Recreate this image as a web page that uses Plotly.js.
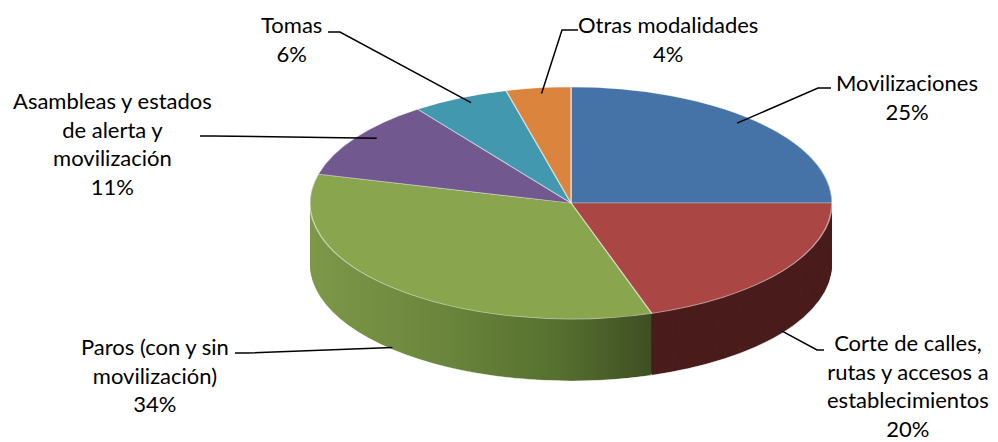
<!DOCTYPE html>
<html>
<head>
<meta charset="utf-8">
<script src="https://cdn.plot.ly/plotly-3.0.1.min.js"></script>
<style>
  html, body { margin: 0; padding: 0; background: #fff; }
  #chart { width: 998px; height: 442px; }
</style>
</head>
<body>
<div id="chart"></div>
<script>
// ---------------- DATA ----------------
const categories = [
  "Movilizaciones",
  "Corte de calles, rutas y accesos a establecimientos",
  "Paros (con y sin movilización)",
  "Asambleas y estados de alerta y movilización",
  "Tomas",
  "Otras modalidades"
];
const values = [25, 20, 34, 11, 6, 4];
const wrappedLabels = [
  "Movilizaciones",
  "Corte de calles,<br>rutas y accesos a<br>establecimientos",
  "Paros (con y sin<br>movilización)",
  "Asambleas y estados<br>de alerta y<br>movilización",
  "Tomas",
  "Otras modalidades"
];

// ---------------- STYLE / LAYOUT ----------------
const W = 998, H = 442;
const topColors  = ["#4572A7", "#AA4643", "#89A54E", "#71588F", "#4198AF", "#DB843D"];
const sideColors = ["#2c4a70", "#4a1d1c", "#5d7535", "#4a3a5e", "#2a6373", "#8f5628"];
const CX = 571, CY = 203, RX = 261, RY = 116, DEPTH = 62;   // final ellipse geometry (px)
const R0 = 170;                                              // plotly pie radius before squash
const domH = 2 * R0 / H;
const domTop = 0.995;
const preDepth = DEPTH * R0 / RY;
const STEP = 1.5;
const FONT = { family: "Lato, 'Open Sans', sans-serif", size: 22, color: "#000" };

// label placement (pixel centres) and leader-line start/elbow points
const labelPos = [[907, 97], [908, 385], [155, 375], [112, 144], [291, 39], [668, 39]];
const leaderStart = [[831, 88], [824, 350], [235, 353], [200, 136], [328, 32], [578, 30]];
const leaderElbow = [[818, 88], [817, 350], [247, 353], [213, 136], [340, 32], [562, 30]];

// ---------------- TRACES ----------------
const traces = [];
function pieTrace(shiftPx, colors, line) {
  const off = shiftPx / H;
  return {
    type: "pie",
    labels: categories,
    values: values,
    sort: false,
    direction: "clockwise",
    rotation: 0,
    textinfo: "none",
    hoverinfo: "skip",
    showlegend: false,
    marker: { colors: colors, line: line },
    domain: { x: [0, 1], y: [domTop - domH - off, domTop - off] }
  };
}
for (let s = preDepth; s > 0; s -= STEP) {
  traces.push(pieTrace(s, sideColors, { width: s === preDepth ? 1 : 0, color: "rgba(255,255,255,0.6)" }));
}
traces.push(pieTrace(0, topColors, { width: 1, color: "rgba(255,255,255,0.55)" }));

// ---------------- ANNOTATIONS / LEADERS ----------------
const total = values.reduce((a, b) => a + b, 0);
const annotations = [];
const shapes = [];
let cum = 0;
const px = x => x / W, py = y => 1 - y / H;
values.forEach((v, i) => {
  const pct = Math.round(v / total * 100);
  const mid = (cum + v / 2) / total * 2 * Math.PI;   // clockwise from top
  cum += v;
  const front = Math.cos(mid) < -0.2;
  const f = front ? 1.0 : 0.9;
  const ex = CX + RX * f * Math.sin(mid);
  const ey = CY - RY * f * Math.cos(mid) + (front ? DEPTH - 2 : -6);
  annotations.push({
    x: px(labelPos[i][0]), y: py(labelPos[i][1]), xref: "paper", yref: "paper",
    xanchor: "center", yanchor: "middle", align: "center", showarrow: false,
    text: wrappedLabels[i] + "<br>" + pct + "%",
    font: FONT
  });
  const s0 = leaderStart[i], e0 = leaderElbow[i];
  shapes.push({
    type: "path", xref: "paper", yref: "paper",
    path: `M ${px(s0[0])} ${py(s0[1])} L ${px(e0[0])} ${py(e0[1])} L ${px(ex)} ${py(ey)}`,
    line: { color: "#000", width: 1.5 }
  });
});

const layout = {
  width: W, height: H,
  margin: { l: 0, r: 0, t: 0, b: 0 },
  paper_bgcolor: "#fff",
  showlegend: false,
  annotations: annotations,
  shapes: shapes
};

Plotly.newPlot("chart", traces, layout, { staticPlot: true, displayModeBar: false }).then(() => {
  const layer = document.querySelector(".pielayer");
  const groups = layer.querySelectorAll("g.trace");
  const topG = groups[groups.length - 1];
  const bb = topG.getBBox();
  const cx0 = bb.x + bb.width / 2, cy0 = bb.y + bb.height / 2, r0 = bb.width / 2;
  const sx = RX / r0, sy = RY / r0;
  layer.setAttribute("transform",
    `translate(${CX},${CY}) scale(${sx},${sy}) translate(${-cx0},${-cy0})`);

  // horizontal shading of the green side wall (lighter on the left, darker toward the front)
  const svg = document.querySelector(".main-svg");
  const NS = "http://www.w3.org/2000/svg";
  const defs = document.createElementNS(NS, "defs");
  const grad = document.createElementNS(NS, "linearGradient");
  grad.setAttribute("id", "sideGreen");
  grad.setAttribute("gradientUnits", "userSpaceOnUse");
  grad.setAttribute("x1", cx0 - r0); grad.setAttribute("x2", cx0 + 0.36 * r0);
  grad.setAttribute("y1", 0); grad.setAttribute("y2", 0);
  [["0", "#7d9848"], ["0.35", "#6c873d"], ["0.7", "#56702f"], ["1", "#3b4a21"]].forEach(([o, c]) => {
    const st = document.createElementNS(NS, "stop");
    st.setAttribute("offset", o); st.setAttribute("stop-color", c);
    grad.appendChild(st);
  });
  defs.appendChild(grad);
  svg.insertBefore(defs, svg.firstChild);
  for (let g = 0; g < groups.length - 1; g++) {
    const slices = groups[g].querySelectorAll("g.slice path.surface");
    if (slices[2]) slices[2].style.fill = "url(#sideGreen)";
  }
});
</script>
</body>
</html>
